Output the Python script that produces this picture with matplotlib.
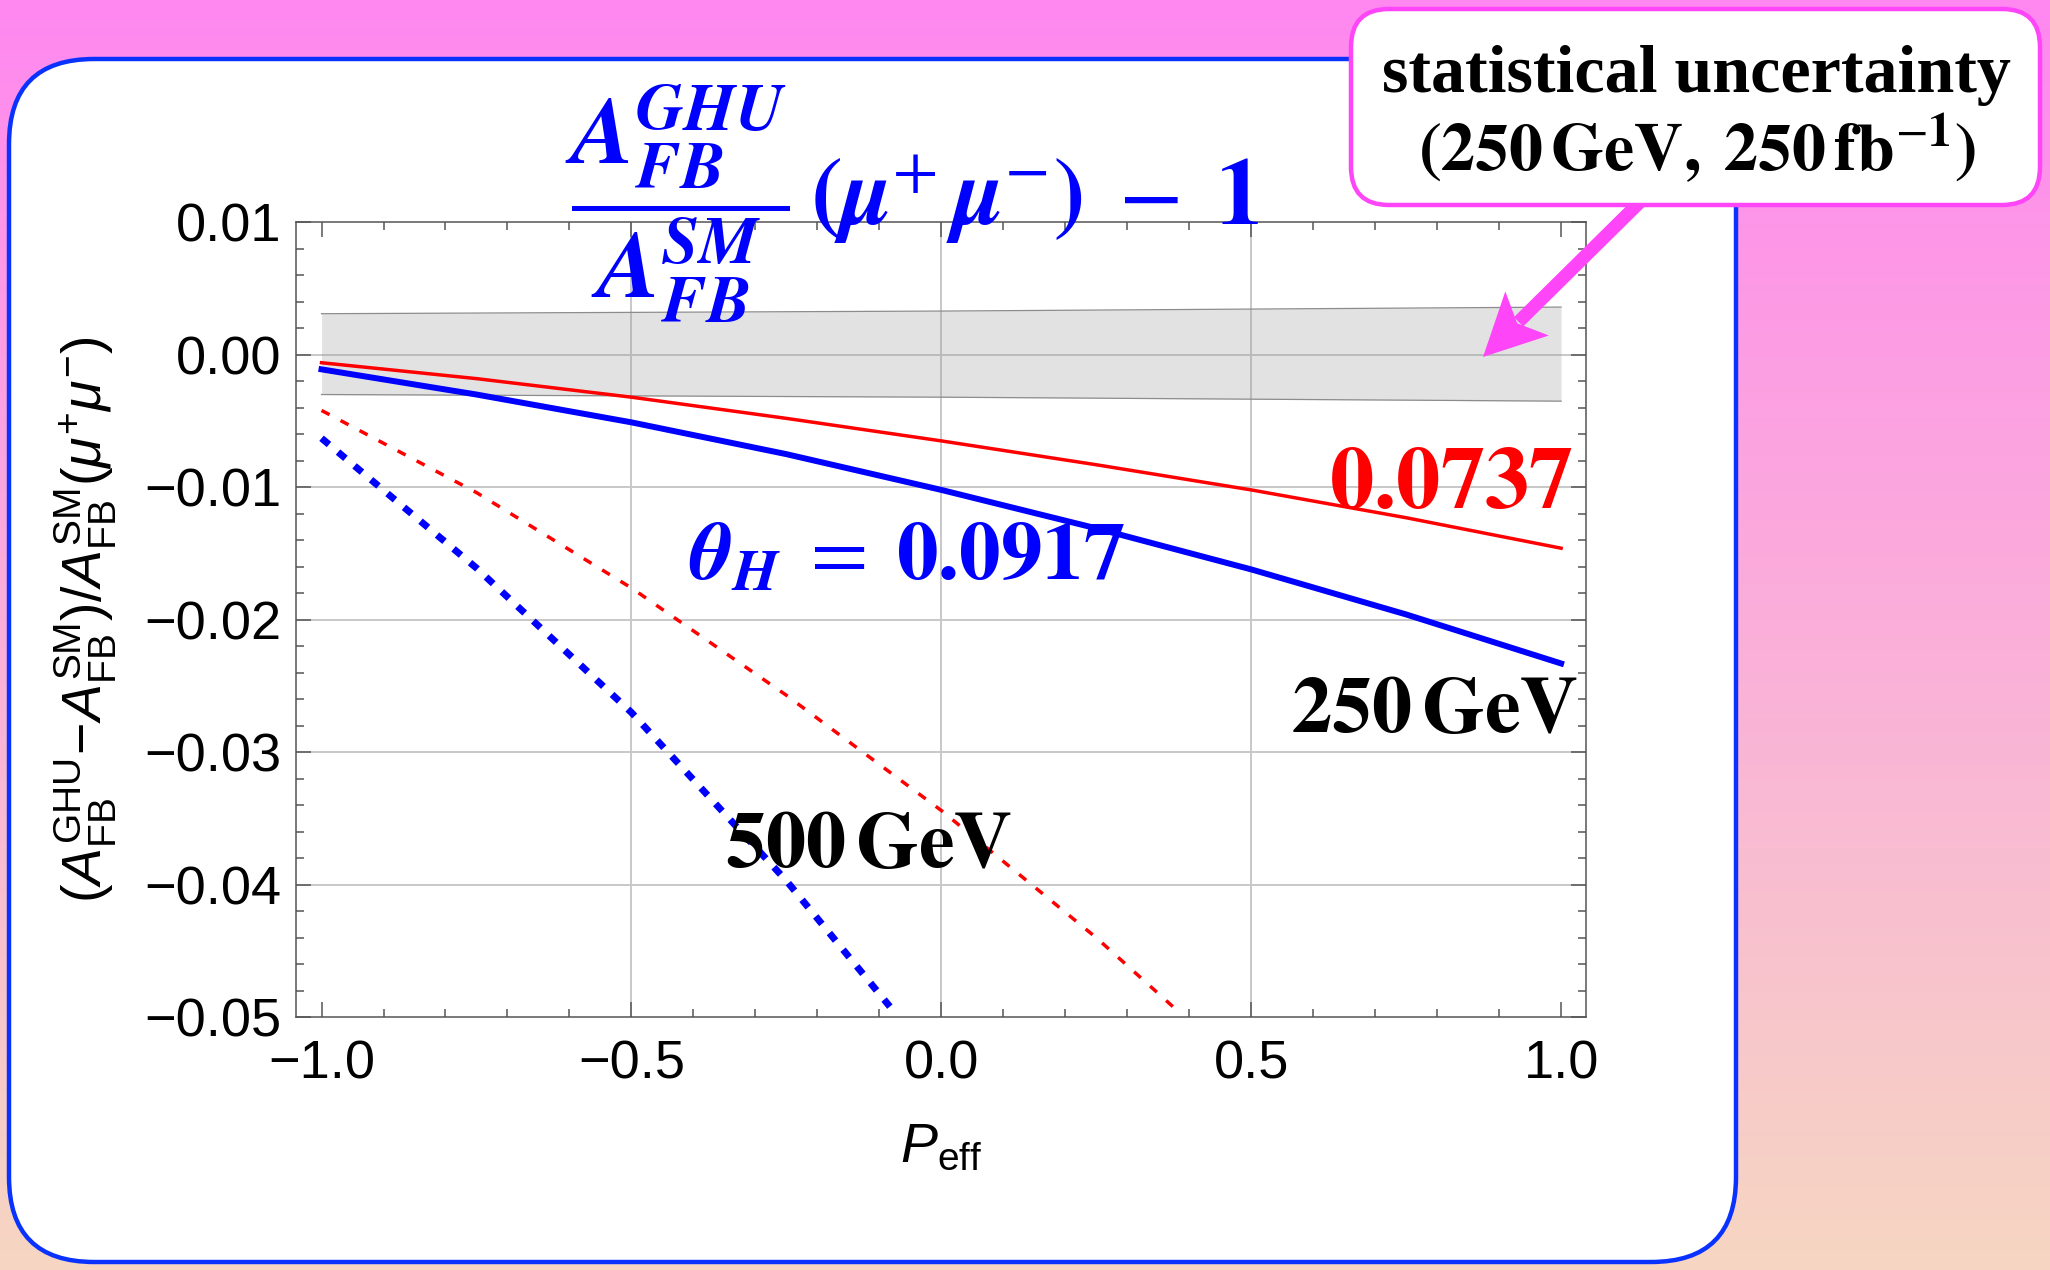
import numpy as np
import matplotlib
matplotlib.use("Agg")
import matplotlib.pyplot as plt
from matplotlib.patches import FancyBboxPatch, Polygon
from matplotlib.ticker import MultipleLocator

# ================== data ==================
p_eff = [-1.0, -0.75, -0.5, -0.25, 0.0, 0.25, 0.5, 0.75, 1.0]
red_250 = [-0.0006, -0.0018, -0.0032, -0.0048, -0.0065, -0.0083, -0.0102, -0.0123, -0.0146]
blue_250 = [-0.0011, -0.0030, -0.0051, -0.0075, -0.0102, -0.0131, -0.0162, -0.0196, -0.0233]

p_red_500 = [-1.0, -0.75, -0.5, -0.25, 0.0, 0.25, 0.376]
red_500 = [-0.0042, -0.0104, -0.0176, -0.0257, -0.0344, -0.0440, -0.0493]
p_blue_500 = [-1.0, -0.75, -0.5, -0.25, -0.083]
blue_500 = [-0.0063, -0.0161, -0.0270, -0.0397, -0.0492]

# statistical uncertainty band (250 GeV, 250 fb^-1)
band_x = [-1.0, 0.0, 1.0]
band_lo = [-0.0030, -0.0032, -0.0035]
band_hi = [0.0031, 0.0033, 0.0036]

xtick_vals = [-1.0, -0.5, 0.0, 0.5, 1.0]
xtick_labels = ["\u22121.0", "\u22120.5", "0.0", "0.5", "1.0"]
ytick_vals = [0.01, 0.0, -0.01, -0.02, -0.03, -0.04, -0.05]
ytick_labels = ["0.01", "0.00", "\u22120.01", "\u22120.02", "\u22120.03", "\u22120.04", "\u22120.05"]
grid_x = [-0.5, 0.0, 0.5]
grid_y = [0.0, -0.01, -0.02, -0.03, -0.04]

# ================== style ==================
W, H = 2050, 1270
plt.rcParams["font.family"] = ["Liberation Sans", "DejaVu Sans"]
plt.rcParams["mathtext.fontset"] = "custom"
plt.rcParams["mathtext.rm"] = "Liberation Sans"
plt.rcParams["mathtext.it"] = "Liberation Sans:italic"
plt.rcParams["mathtext.bf"] = "Liberation Sans:bold"

BLUE = "#0000ff"
RED = "#ff0000"
MAGENTA = "#ff45f8"

fig = plt.figure(figsize=(W / 100, H / 100), dpi=100)

# ---- background gradient + white panel (pixel coordinates) ----
bg = fig.add_axes([0, 0, 1, 1], zorder=0)
t = np.linspace(0, 1, 256)[:, None, None]
top_col = np.array([255, 136, 240]) / 255
bot_col = np.array([246, 214, 194]) / 255
bg.imshow(top_col + (bot_col - top_col) * t, extent=[0, W, H, 0], aspect="auto")
bg.add_patch(FancyBboxPatch((9, 59), 1727, 1203, boxstyle="round,pad=0,rounding_size=85",
                            fc="white", ec="#0a32ff", lw=3.2))
bg.set_xlim(0, W)
bg.set_ylim(H, 0)
bg.axis("off")

# ---- main plot ----
ax = fig.add_axes([295.5 / W, 1 - 1017.2 / H, (1585.9 - 295.5) / W, (1017.2 - 222.3) / H], zorder=1)
ax.set_facecolor("none")
ax.set_xlim(-1.042, 1.040)
ax.set_ylim(-0.05, 0.01)

for gx in grid_x:
    ax.axvline(gx, color="#c8c8c8", lw=1.4, zorder=1)
for gy in grid_y:
    ax.axhline(gy, color="#c8c8c8", lw=1.4, zorder=1)

ax.fill_between(band_x, band_lo, band_hi, color="#9a9a9a", alpha=0.28, lw=0, zorder=1.5)
ax.plot(band_x, band_lo, color="#8c8c8c", lw=0.9, zorder=1.6)
ax.plot(band_x, band_hi, color="#8c8c8c", lw=0.9, zorder=1.6)

ax.plot(p_red_500, red_500, color=RED, lw=2.5, ls=(0, (2.6, 3.6)), dash_capstyle="butt", zorder=3)
ax.plot(p_blue_500, blue_500, color=BLUE, lw=5, ls=(0, (1.4, 1.7)), dash_capstyle="butt", zorder=3)
ax.plot(p_eff, red_250, color=RED, lw=2.5, zorder=3)
ax.plot(p_eff, blue_250, color=BLUE, lw=4.3, zorder=3)

ax.set_xticks(xtick_vals, xtick_labels)
ax.set_yticks(ytick_vals, ytick_labels)
ax.xaxis.set_minor_locator(MultipleLocator(0.1))
ax.yaxis.set_minor_locator(MultipleLocator(0.002))
ax.tick_params(which="both", direction="in", top=True, right=True, color="#555555", width=1.1)
ax.tick_params(which="major", length=11, labelsize=39)
ax.tick_params(which="minor", length=6)
ax.tick_params(axis="x", pad=16)
ax.tick_params(axis="y", pad=10)
for sp in ax.spines.values():
    sp.set_color("#555555")
    sp.set_linewidth(1.1)

ax.set_xlabel(r"$P_{\mathrm{eff}}$", fontsize=40, labelpad=24)
ax.set_ylabel(r"$(A_{\mathrm{FB}}^{\mathrm{GHU}}\!-\!A_{\mathrm{FB}}^{\mathrm{SM}})/A_{\mathrm{FB}}^{\mathrm{SM}}(\mu^{+}\mu^{-})$",
              fontsize=40, labelpad=18)

# curve labels
ax.text(1.020, -0.0116, r"$\mathbf{0.0737}$", color=RED, fontsize=64, ha="right", va="baseline",
        math_fontfamily="stix", zorder=4)
ax.text(1.028, -0.0285, r"$\mathbf{250\,GeV}$", color="black", fontsize=58, ha="right", va="baseline",
        math_fontfamily="stix", zorder=4)
ax.text(-0.349, -0.0387, r"$\mathbf{500\,GeV}$", color="black", fontsize=58, ha="left", va="baseline",
        math_fontfamily="stix", zorder=4)
ax.text(-0.407, -0.0170, r"$\mathbfit{\theta}_{\mathbfit{H}}\;=\;\mathbf{0.0917}$", color=BLUE,
        fontsize=60, ha="left", va="baseline", math_fontfamily="stix", zorder=4)

# ---- overlay: title, callout, arrow (pixel coordinates) ----
ov = fig.add_axes([0, 0, 1, 1], zorder=2)
ov.set_xlim(0, W)
ov.set_ylim(H, 0)
ov.axis("off")

title = (r"$\dfrac{\mathbfit{A}_{\mathbfit{FB}}^{\mathbfit{GHU}}}{\mathbfit{A}_{\mathbfit{FB}}^{\mathbfit{SM}}}"
         r"\,\mathbf{(}\mathbfit{\mu}^{+}\,\mathbfit{\mu}^{-}\mathbf{)}\;-\;\mathbf{1}$")
ov.text(912, 204, title, color=BLUE, fontsize=68, ha="center", va="center", math_fontfamily="stix")

tip = np.array([1483.0, 357.0])
tail = np.array([1646.0, 196.0])
d = (tail - tip) / np.linalg.norm(tail - tip)
n = np.array([-d[1], d[0]])
head = [tip, tip + 62 * d + 31 * n, tip + 48 * d, tip + 62 * d - 31 * n]
ov.add_patch(Polygon(head, closed=True, fc=MAGENTA, ec="none", zorder=2))
shaft_start = tip + 50 * d
ov.plot([shaft_start[0], tail[0]], [shaft_start[1], tail[1]], color=MAGENTA, lw=9.5,
        solid_capstyle="butt", zorder=2)

ov.add_patch(FancyBboxPatch((1351, 9), 689, 196, boxstyle="round,pad=0,rounding_size=38",
                            fc="white", ec=MAGENTA, lw=3.2, zorder=3))
ov.text(1696, 76, "statistical uncertainty", family="Liberation Serif", weight="bold", fontsize=49,
        ha="center", va="center", zorder=4)
ov.text(1697, 148, r"$\mathbf{(250\,GeV,\;250\,fb}^{-\mathbf{1}}\mathbf{)}$", fontsize=49,
        ha="center", va="center", math_fontfamily="stix", zorder=4)

fig.savefig("out.png", dpi=100)
